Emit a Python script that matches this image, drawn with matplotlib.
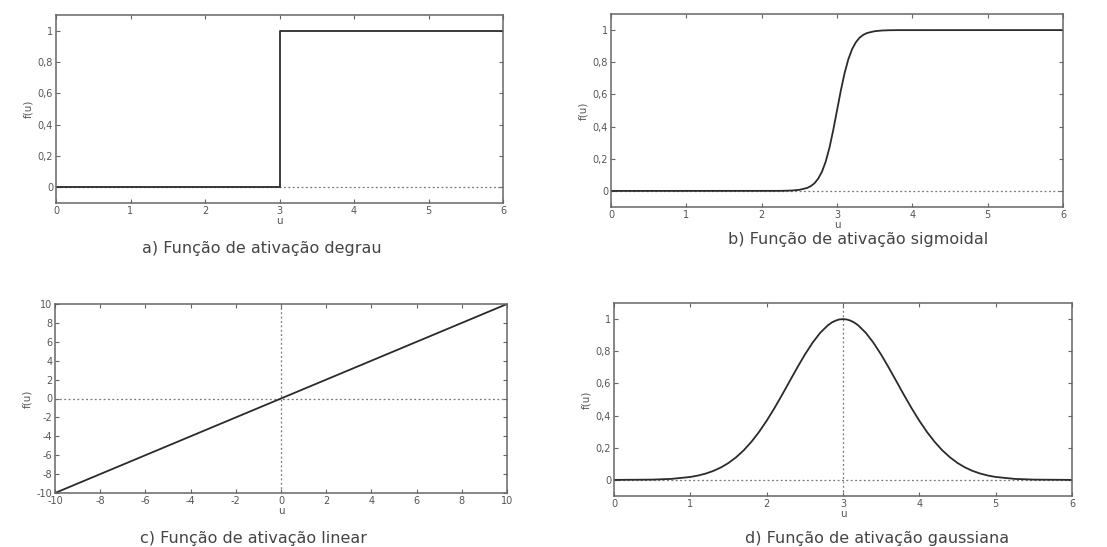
import matplotlib
matplotlib.use("Agg")
import matplotlib.pyplot as plt
from matplotlib.ticker import FixedLocator, FuncFormatter

plt.rcParams["font.family"] = ["DejaVu Sans"]
plt.rcParams["axes.unicode_minus"] = False

# a) step function
step_u = [0, 3, 3, 6]
step_f = [0, 0, 1, 1]

# b) sigmoid function
sig_u = [0, 2.2, 2.3, 2.4, 2.5, 2.6, 2.65, 2.7, 2.75, 2.8, 2.85, 2.9, 2.95,
         3.0, 3.05, 3.1, 3.15, 3.2, 3.25, 3.3, 3.35, 3.4, 3.5, 3.6, 3.7, 3.8, 6]
sig_f = [0, 0.0003, 0.0009, 0.0025, 0.0067, 0.018, 0.029, 0.047, 0.076,
         0.119, 0.182, 0.269, 0.378, 0.5, 0.622, 0.731, 0.818, 0.881, 0.924,
         0.953, 0.971, 0.982, 0.993, 0.9975, 0.9991, 0.9997, 1]

# c) linear function
lin_u = [-10, 10]
lin_f = [-10, 10]

# d) gaussian function
gau_u = [0, 0.5, 0.75, 1.0, 1.1, 1.2, 1.3, 1.4, 1.5, 1.6, 1.7, 1.8, 1.9,
         2.0, 2.1, 2.2, 2.3, 2.4, 2.5, 2.6, 2.7, 2.8, 2.85, 2.9, 2.95, 3.0,
         3.05, 3.1, 3.15, 3.2,
         3.3, 3.4, 3.5, 3.6, 3.7, 3.8, 3.9, 4.0, 4.1, 4.2, 4.3, 4.4, 4.5,
         4.6, 4.7, 4.8, 4.9, 5.0, 5.25, 5.5, 6]
gau_f = [0.0001, 0.0019, 0.0063, 0.0183, 0.0271, 0.0392, 0.0556, 0.0773,
         0.1054, 0.1409, 0.1845, 0.2369, 0.2982, 0.3679, 0.4449, 0.5273,
         0.6126, 0.6977, 0.7788, 0.8521, 0.9139, 0.9608, 0.9778, 0.9900,
         0.9975, 1.0, 0.9975, 0.9900, 0.9778, 0.9608, 0.9139, 0.8521,
         0.7788, 0.6977, 0.6126, 0.5273,
         0.4449, 0.3679, 0.2982, 0.2369, 0.1845, 0.1409, 0.1054, 0.0773,
         0.0556, 0.0392, 0.0271, 0.0183, 0.0063, 0.0019, 0.0001]

# tick positions
ticks_x_06 = [0, 1, 2, 3, 4, 5, 6]
ticks_y_01 = [0, 0.2, 0.4, 0.6, 0.8, 1]
ticks_lin = [-10, -8, -6, -4, -2, 0, 2, 4, 6, 8, 10]

captions = ["a) Função de ativação degrau",
            "b) Função de ativação sigmoidal",
            "c) Função de ativação linear",
            "d) Função de ativação gaussiana"]

W, H = 1107, 547
fig = plt.figure(figsize=(W / 100, H / 100), dpi=100)

def box(l, t, r, b):
    return [l / W, 1 - b / H, (r - l) / W, (b - t) / H]

LINE = "#2b2b2b"
TXT = "#555555"
FRAME = "#666666"

comma = FuncFormatter(lambda v, _: f"{v:g}".replace(".", ","))

def style(ax, xt, yt, xlim, ylim):
    ax.set_xlim(*xlim)
    ax.set_ylim(*ylim)
    ax.xaxis.set_major_locator(FixedLocator(xt))
    ax.yaxis.set_major_locator(FixedLocator(yt))
    ax.xaxis.set_major_formatter(comma)
    ax.yaxis.set_major_formatter(comma)
    ax.tick_params(direction="in", top=True, right=True, length=3,
                   width=0.8, color=FRAME, labelsize=7, labelcolor=TXT,
                   pad=2)
    for s in ax.spines.values():
        s.set_color(FRAME)
        s.set_linewidth(1.1)
    ax.set_xlabel("u", fontsize=7.5, color=TXT, labelpad=0)
    ax.set_ylabel("f(u)", fontsize=7.5, color=TXT, labelpad=3)

dot = dict(color="#777777", lw=0.9, ls=(0, (1.5, 2)))

axa = fig.add_axes(box(56, 15, 503, 203))
axa.axhline(0, **dot)
axa.plot(step_u, step_f, color=LINE, lw=1.3)
style(axa, ticks_x_06, ticks_y_01, (0, 6), (-0.1, 1.1))

axb = fig.add_axes(box(611, 14, 1063, 207))
axb.axhline(0, **dot)
axb.plot(sig_u, sig_f, color=LINE, lw=1.3)
style(axb, ticks_x_06, ticks_y_01, (0, 6), (-0.1, 1.1))

axc = fig.add_axes(box(55, 304, 507, 493))
axc.axhline(0, **dot)
axc.axvline(0, **dot)
axc.plot(lin_u, lin_f, color=LINE, lw=1.3)
style(axc, ticks_lin, ticks_lin, (-10, 10), (-10, 10))

axd = fig.add_axes(box(614, 303, 1072, 496))
axd.axhline(0, **dot)
axd.axvline(3, **dot)
axd.plot(gau_u, gau_f, color=LINE, lw=1.3)
style(axd, ticks_x_06, ticks_y_01, (0, 6), (-0.1, 1.1))

cap_pos = [(262, 248), (858, 240), (253, 538), (877, 538)]
for (cx, cy), txt in zip(cap_pos, captions):
    fig.text(cx / W, 1 - cy / H, txt, ha="center", va="center",
             fontsize=11.5, color="#444444")

fig.savefig("out.png", dpi=100)
